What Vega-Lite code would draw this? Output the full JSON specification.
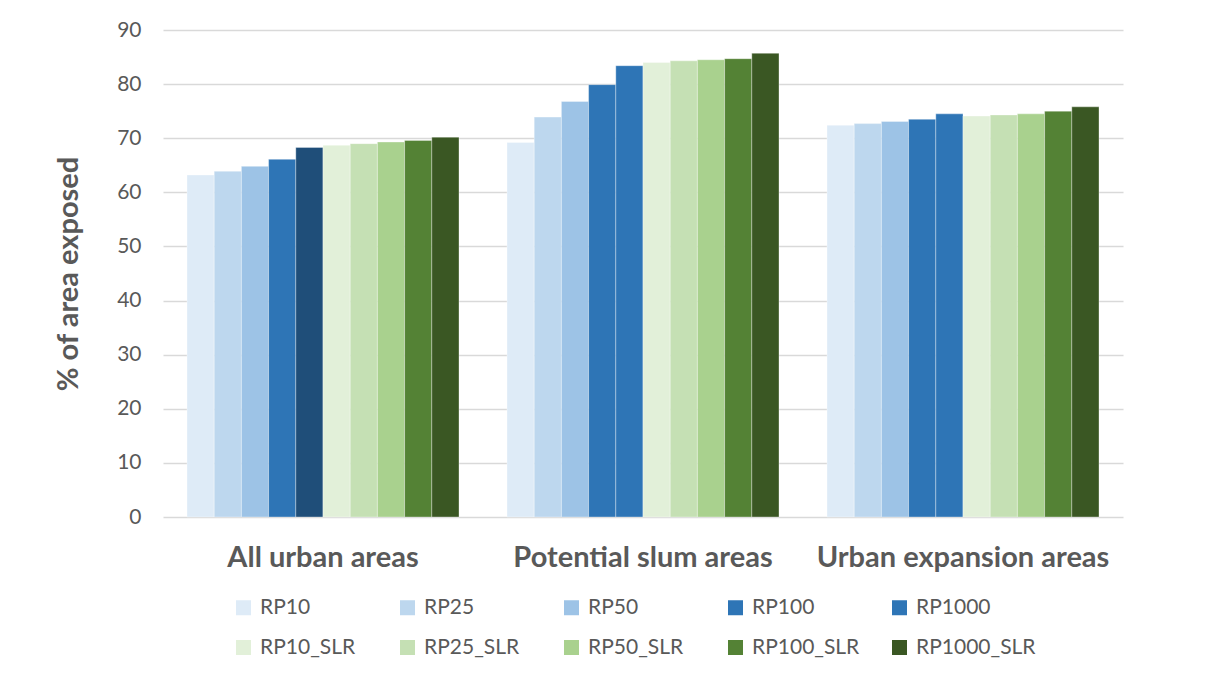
{
  "$schema": "https://vega.github.io/schema/vega-lite/v6.json",
  "width": 960,
  "height": 487,
  "autosize": {"type": "none"},
  "padding": {"left": 163, "top": 30, "right": 82, "bottom": 159},
  "background": "#ffffff",
  "data": {
    "values": [
      {"group": "All urban areas", "series": "RP10", "value": 63.2},
      {"group": "All urban areas", "series": "RP25", "value": 63.9},
      {"group": "All urban areas", "series": "RP50", "value": 64.8},
      {"group": "All urban areas", "series": "RP100", "value": 66.1},
      {"group": "All urban areas", "series": "RP1000", "value": 68.3},
      {"group": "All urban areas", "series": "RP10_SLR", "value": 68.7},
      {"group": "All urban areas", "series": "RP25_SLR", "value": 69.0},
      {"group": "All urban areas", "series": "RP50_SLR", "value": 69.3},
      {"group": "All urban areas", "series": "RP100_SLR", "value": 69.6},
      {"group": "All urban areas", "series": "RP1000_SLR", "value": 70.2},
      {"group": "Potential slum areas", "series": "RP10", "value": 69.2},
      {"group": "Potential slum areas", "series": "RP25", "value": 73.9},
      {"group": "Potential slum areas", "series": "RP50", "value": 76.8},
      {"group": "Potential slum areas", "series": "RP100", "value": 79.9},
      {"group": "Potential slum areas", "series": "RP1000", "value": 83.4},
      {"group": "Potential slum areas", "series": "RP10_SLR", "value": 84.0},
      {"group": "Potential slum areas", "series": "RP25_SLR", "value": 84.3},
      {"group": "Potential slum areas", "series": "RP50_SLR", "value": 84.5},
      {"group": "Potential slum areas", "series": "RP100_SLR", "value": 84.7},
      {"group": "Potential slum areas", "series": "RP1000_SLR", "value": 85.7},
      {"group": "Urban expansion areas", "series": "RP10", "value": 72.4},
      {"group": "Urban expansion areas", "series": "RP25", "value": 72.7},
      {"group": "Urban expansion areas", "series": "RP50", "value": 73.1},
      {"group": "Urban expansion areas", "series": "RP100", "value": 73.5},
      {"group": "Urban expansion areas", "series": "RP1000", "value": 74.5},
      {"group": "Urban expansion areas", "series": "RP10_SLR", "value": 74.1},
      {"group": "Urban expansion areas", "series": "RP25_SLR", "value": 74.3},
      {"group": "Urban expansion areas", "series": "RP50_SLR", "value": 74.5},
      {"group": "Urban expansion areas", "series": "RP100_SLR", "value": 75.0},
      {"group": "Urban expansion areas", "series": "RP1000_SLR", "value": 75.8}
    ]
  },
  "mark": {"type": "bar", "stroke": "#ffffff", "strokeWidth": 0.75, "strokeOpacity": 0.45},
  "encoding": {
    "x": {
      "field": "group",
      "type": "nominal",
      "sort": null,
      "scale": {"paddingInner": 0.15, "paddingOuter": 0.075},
      "axis": {
        "title": null,
        "labelAngle": 0,
        "labelFont": "Lato",
        "labelFontSize": 29,
        "labelFontWeight": "bold",
        "labelColor": "#595959",
        "labelPadding": 26,
        "labelLimit": 500,
        "ticks": false,
        "domain": false
      }
    },
    "xOffset": {
      "field": "series",
      "type": "nominal",
      "sort": ["RP10", "RP25", "RP50", "RP100", "RP1000", "RP10_SLR", "RP25_SLR", "RP50_SLR", "RP100_SLR", "RP1000_SLR"],
      "scale": {"paddingInner": 0, "paddingOuter": 0}
    },
    "y": {
      "field": "value",
      "type": "quantitative",
      "scale": {"domain": [0, 90]},
      "axis": {
        "title": "% of area exposed",
        "titleFont": "Lato",
        "titleFontSize": 29,
        "titleFontWeight": "bold",
        "titleColor": "#595959",
        "titlePadding": 33,
        "values": [0, 10, 20, 30, 40, 50, 60, 70, 80, 90],
        "labelFont": "Lato",
        "labelFontSize": 21,
        "labelColor": "#595959",
        "labelPadding": 22,
        "ticks": false,
        "domain": false,
        "grid": true,
        "gridColor": "#D9D9D9",
        "gridWidth": 1.3
      }
    },
    "color": {
      "condition": {"test": "datum.group === 'All urban areas' && datum.series === 'RP1000'", "value": "#1F4E79"},
      "field": "series",
      "type": "nominal",
      "sort": ["RP10", "RP25", "RP50", "RP100", "RP1000", "RP10_SLR", "RP25_SLR", "RP50_SLR", "RP100_SLR", "RP1000_SLR"],
      "scale": {
        "domain": ["RP10", "RP25", "RP50", "RP100", "RP1000", "RP10_SLR", "RP25_SLR", "RP50_SLR", "RP100_SLR", "RP1000_SLR"],
        "range": ["#DEEBF7", "#BDD7EE", "#9DC3E6", "#2E75B6", "#2E75B6", "#E2F0D9", "#C5E0B4", "#A9D18E", "#548235", "#3A5723"]
      },
      "legend": {
        "title": null,
        "orient": "none",
        "legendX": 70,
        "legendY": 567,
        "direction": "horizontal",
        "columns": 5,
        "gridAlign": "all",
        "columnPadding": 17,
        "rowPadding": 18,
        "symbolType": "square",
        "symbolSize": 225,
        "symbolStrokeWidth": 0,
        "labelFont": "Lato",
        "labelFontSize": 21,
        "labelColor": "#595959",
        "labelOffset": 6,
        "labelLimit": 300
      }
    }
  },
  "config": {
    "view": {"stroke": null}
  }
}
